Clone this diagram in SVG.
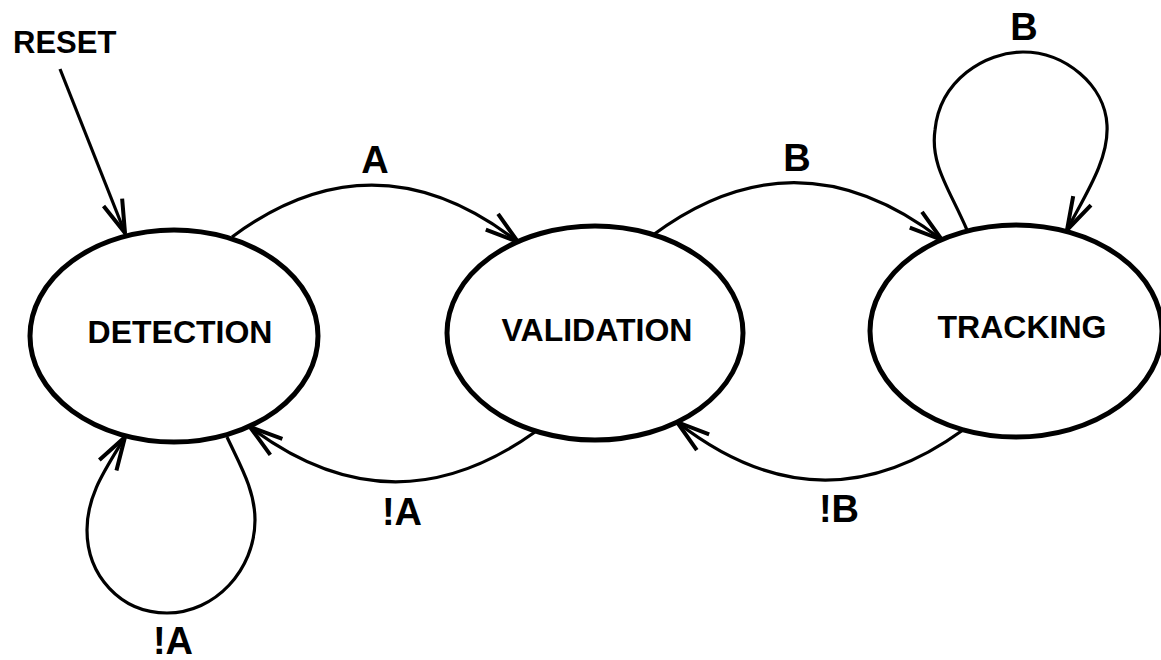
<svg xmlns="http://www.w3.org/2000/svg" width="1161" height="660" viewBox="0 0 1161 660">
<style>
.node{fill:#fff;stroke:#000;stroke-width:5}
.nl{font-family:"Liberation Sans",Arial,sans-serif;font-weight:bold;font-size:32px;text-anchor:middle;fill:#000}
.el{font-family:"Liberation Sans",Arial,sans-serif;font-weight:bold;font-size:38px;text-anchor:middle;fill:#000}
.edge{fill:none;stroke:#000;stroke-width:3.2;marker-end:url(#arr)}
</style>
<defs>
<marker id="arr" markerUnits="userSpaceOnUse" viewBox="-38 -14 40 28" refX="0" refY="0" markerWidth="40" markerHeight="28" orient="auto">
<path d="M-33,-10 L0,0 L-33,10" fill="none" stroke="#000" stroke-width="4" stroke-linejoin="round"/>
</marker>
</defs>
<rect width="1161" height="660" fill="#fff"/>
<g id="connectors">
<path class="edge" d="M60,69 L125,233"/>
<path class="edge" d="M232,237 Q375,131 518,242"/>
<path class="edge" d="M653,235 Q797,128 942,240"/>
<path class="edge" d="M967,230 C950,190 930,165 935,130 C940,80 985,52 1023,52 C1065,52 1105,85 1107,125 C1109,160 1085,195 1067,230"/>
<path class="edge" d="M227,437 C240,465 255,490 255,520 C255,570 215,613 167,613 C120,613 87,575 87,530 C87,495 105,470 125,437"/>
<path class="edge" d="M535,432 Q392,534 250,427"/>
<path class="edge" d="M963,430 Q820,534 677,422"/>
</g>
<g id="labels">
<text x="13" y="53" font-family="Liberation Sans,Arial,sans-serif" font-weight="bold" font-size="31">RESET</text>
<text class="el" x="375" y="173">A</text>
<text class="el" x="797" y="171">B</text>
<text class="el" x="1024" y="40">B</text>
<text class="el" x="402" y="525">!A</text>
<text class="el" x="839" y="522">!B</text>
<text class="el" x="173" y="654">!A</text>
</g>
<g id="detection">
<ellipse class="node" cx="174" cy="336" rx="144" ry="106"/>
<text class="nl" x="180" y="343">DETECTION</text>
</g>
<g id="validation">
<ellipse class="node" cx="595" cy="333" rx="148" ry="107"/>
<text class="nl" x="597" y="341">VALIDATION</text>
</g>
<g id="tracking">
<ellipse class="node" cx="1016" cy="331" rx="146" ry="106"/>
<text class="nl" x="1022" y="338">TRACKING</text>
</g>
</svg>
